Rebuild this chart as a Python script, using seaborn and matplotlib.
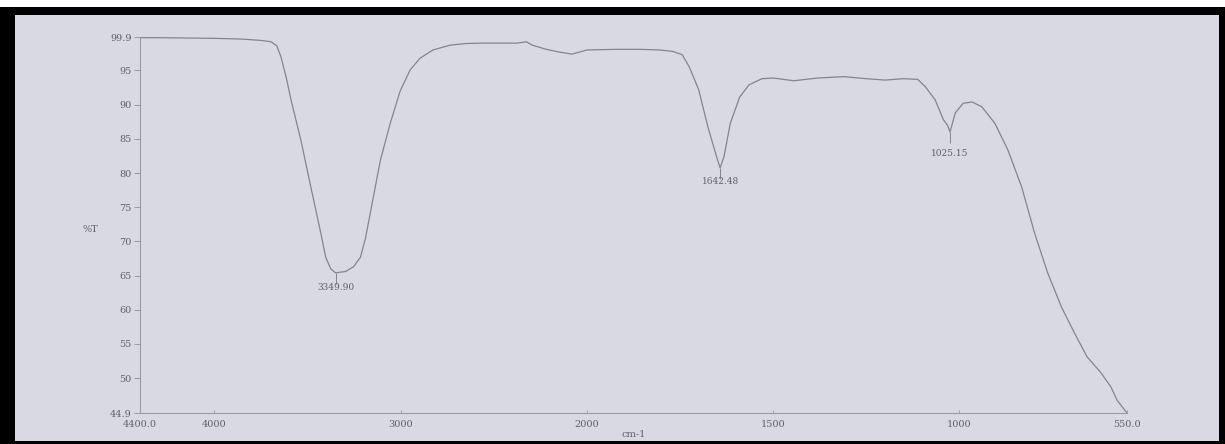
import numpy as np
import pandas as pd
import matplotlib
matplotlib.use("Agg")
import matplotlib.pyplot as plt
from matplotlib.patches import Rectangle
import seaborn as sns

# ---- data ----
wavenumber = [4400, 4300, 4150, 4000, 3856, 3750, 3696, 3665, 3643, 3615, 3589, 3536,
              3483, 3429, 3403, 3376, 3349.9, 3296, 3253, 3216, 3189, 3163, 3109, 3056,
              3003, 2949, 2896, 2827, 2736, 2650, 2560, 2450, 2379, 2325, 2293, 2219,
              2150, 2080, 2040, 2000, 1920, 1860, 1805, 1770, 1744, 1725, 1700, 1675,
              1652, 1642.48, 1632, 1615, 1590, 1565, 1530, 1500, 1445, 1380, 1310,
              1250, 1200, 1150, 1112, 1091, 1065, 1043, 1032, 1025.15, 1011, 990, 966,
              940, 905, 870, 833, 798, 763, 726, 691, 657, 620, 593, 577, 560, 550]
transmittance = [99.8, 99.8, 99.75, 99.7, 99.6, 99.4, 99.2, 98.6, 97.0, 94.0, 90.7, 84.8,
                 78.0, 71.2, 67.7, 66.0, 65.4, 65.6, 66.3, 67.7, 70.5, 74.2, 81.9, 87.3,
                 92.0, 95.1, 96.8, 98.0, 98.7, 98.95, 99.0, 99.0, 99.0, 99.2, 98.7, 98.1,
                 97.7, 97.4, 97.7, 98.0, 98.1, 98.1, 98.0, 97.8, 97.3, 95.5, 92.2, 86.7,
                 82.4, 80.75, 82.4, 87.3, 91.1, 92.9, 93.8, 93.9, 93.5, 93.9, 94.1,
                 93.8, 93.6, 93.8, 93.7, 92.6, 90.7, 87.8, 87.0, 86.0, 88.8, 90.2, 90.4,
                 89.7, 87.3, 83.4, 78.0, 71.2, 65.4, 60.4, 56.6, 53.1, 50.8, 48.7, 46.8,
                 45.6, 44.9]

peak_wn = [3349.90, 1642.48, 1025.15]
peak_t = [65.4, 80.75, 86.0]
peak_labels = ["3349.90", "1642.48", "1025.15"]
peak_label_t = [63.3, 78.7, 82.9]

x_ticks = [4400, 4000, 3000, 2000, 1500, 1000, 550]
x_ticklabels = ["4400.0", "4000", "3000", "2000", "1500", "1000", "550.0"]
y_ticks = [99.9, 95, 90, 85, 80, 75, 70, 65, 60, 55, 50, 44.9]
y_ticklabels = ["99.9", "95", "90", "85", "80", "75", "70", "65", "60", "55", "50", "44.9"]

df = pd.DataFrame({"cm-1": wavenumber, "%T": transmittance})

# ---- style ----
sns.set_theme(style="white")
plt.rcParams["font.family"] = ["DejaVu Serif", "Liberation Serif"]

BG = "#d9d9e3"
LINE = "#84848f"
TXT = "#60606c"

fig = plt.figure(figsize=(12.25, 4.44), dpi=100, facecolor="white")
# black scan frame (white strip left at the very top)
fig.patches.append(Rectangle((0, 0), 1, 437 / 444,
                             transform=fig.transFigure, facecolor="black",
                             edgecolor="none", zorder=-6))
# lavender paper area inside the black frame
fig.patches.append(Rectangle((15 / 1225, 3 / 444), 1204 / 1225, 426 / 444,
                             transform=fig.transFigure, facecolor=BG,
                             edgecolor="none", zorder=-5))

ax = fig.add_axes([140 / 1225, 31 / 444, 987 / 1225, 376 / 444])
ax.set_facecolor(BG)
ax.set_zorder(1)

sns.lineplot(data=df, x="cm-1", y="%T", ax=ax, color=LINE, linewidth=0.9)


# FTIR-style axis: scale doubles below 2000 cm-1
def fwd(x):
    x = np.asarray(x, dtype=float)
    return np.where(x > 2000, 2000 + (x - 2000) / 2.0, x)


def inv(u):
    u = np.asarray(u, dtype=float)
    return np.where(u > 2000, 2000 + (u - 2000) * 2.0, u)


ax.set_xscale("function", functions=(fwd, inv))
ax.set_xlim(4400, 550)
ax.set_ylim(44.9, 99.9)

ax.set_xticks(x_ticks)
ax.set_xticklabels(x_ticklabels)
ax.set_yticks(y_ticks)
ax.set_yticklabels(y_ticklabels)
ax.minorticks_off()

for s in ["top", "right"]:
    ax.spines[s].set_visible(False)
for s in ["left", "bottom"]:
    ax.spines[s].set_color("#9a9aa4")
    ax.spines[s].set_linewidth(0.8)

ax.tick_params(axis="y", direction="out", length=4, width=0.7, color="#9a9aa4",
               labelsize=7, labelcolor=TXT, pad=2, left=True)
ax.tick_params(axis="x", direction="in", length=2, width=0.6, color="#9a9aa4",
               labelsize=7, labelcolor=TXT, pad=5, bottom=True)

ax.set_xlabel("cm-1", fontsize=7, color=TXT)
ax.xaxis.set_label_coords(0.5, -0.045)
ax.set_ylabel("%T", fontsize=7, color=TXT, rotation=0, va="center", ha="center")
ax.yaxis.set_label_coords(-0.05, 0.487)

# peak markers and labels
for w, t, lab, lt in zip(peak_wn, peak_t, peak_labels, peak_label_t):
    ax.vlines(w, t - 1.6, t, color=LINE, linewidth=0.7)
    ax.text(w, lt, lab, fontsize=6.5, color=TXT, ha="center", va="center")

fig.savefig("out.png", dpi=100, facecolor=fig.get_facecolor())
